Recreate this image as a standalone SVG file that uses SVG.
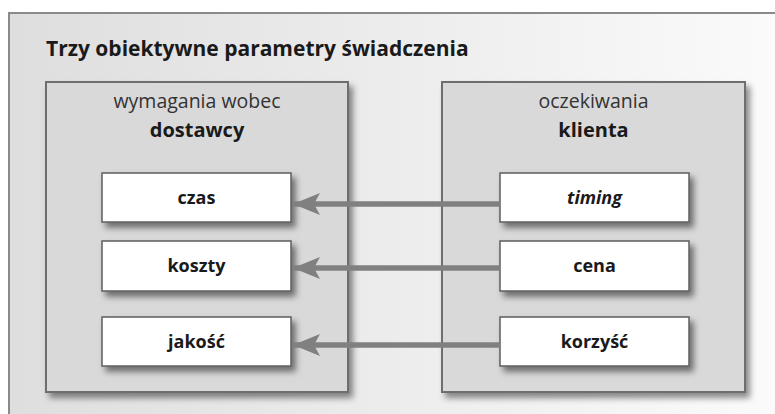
<svg xmlns="http://www.w3.org/2000/svg" width="775" height="414" viewBox="0 0 775 414">
<style>
  text { font-family: "Open Sans", "Noto Sans", "DejaVu Sans", sans-serif; fill: #1a1a1a; text-anchor: middle; }
  .title { font-size: 21px; font-weight: bold; text-anchor: start; }
  .sub { font-size: 19.5px; fill: #333; }
  .head { font-size: 20px; font-weight: bold; }
  .lbl { font-size: 18px; font-weight: bold; }
  .panel { fill: #d9d9d9; stroke: #6e6e6e; stroke-width: 2; filter: url(#sh); }
  .box { fill: #ffffff; stroke: #5e5e5e; stroke-width: 1.5; filter: url(#sh2); }
  .conn { stroke: #808080; stroke-width: 5.5; fill: none; marker-end: url(#ah); }
</style>
<defs>
  <linearGradient id="bg" x1="0" y1="0" x2="1" y2="0">
    <stop offset="0" stop-color="#dedede"/>
    <stop offset="1" stop-color="#fbfbfb"/>
  </linearGradient>
  <filter id="sh" x="-10%" y="-10%" width="130%" height="130%">
    <feDropShadow dx="4" dy="5" stdDeviation="3" flood-color="#000" flood-opacity="0.45"/>
  </filter>
  <filter id="sh2" x="-10%" y="-20%" width="130%" height="160%">
    <feDropShadow dx="4" dy="5" stdDeviation="3" flood-color="#000" flood-opacity="0.5"/>
  </filter>
  <marker id="ah" markerUnits="userSpaceOnUse" markerWidth="28" markerHeight="24" refX="27" refY="12" orient="auto">
    <path d="M0,1 L27,12 L0,23 L6,12 Z" fill="#808080"/>
  </marker>
</defs>
<rect width="775" height="414" fill="#ffffff"/>
<g id="outer">
  <rect x="9" y="13" width="780" height="420" fill="url(#bg)" stroke="#8a8a8a" stroke-width="2"/>
  <text class="title" x="46" y="56">Trzy obiektywne parametry świadczenia</text>
</g>
<g id="panel-dostawcy">
  <rect class="panel" x="46" y="82" width="302" height="310"/>
  <text class="sub" x="197" y="108">wymagania wobec</text>
  <text class="head" x="197" y="137">dostawcy</text>
</g>
<g id="panel-klienta">
  <rect class="panel" x="442" y="82" width="303" height="310"/>
  <text class="sub" x="593.5" y="108">oczekiwania</text>
  <text class="head" x="593.5" y="137">klienta</text>
</g>
<g id="czas">
  <rect class="box" x="102" y="173" width="189" height="49"/>
  <text class="lbl" x="196.5" y="204">czas</text>
</g>
<g id="koszty">
  <rect class="box" x="102" y="241" width="189" height="50"/>
  <text class="lbl" x="196.5" y="272">koszty</text>
</g>
<g id="jakosc">
  <rect class="box" x="102" y="317" width="189" height="49"/>
  <text class="lbl" x="196.5" y="348">jakość</text>
</g>
<g id="timing">
  <rect class="box" x="500" y="173" width="189" height="49"/>
  <text class="lbl" x="594.5" y="204" font-style="italic">timing</text>
</g>
<g id="cena">
  <rect class="box" x="500" y="241" width="189" height="50"/>
  <text class="lbl" x="594.5" y="272">cena</text>
</g>
<g id="korzysc">
  <rect class="box" x="500" y="317" width="189" height="49"/>
  <text class="lbl" x="594.5" y="348">korzyść</text>
</g>
<g id="connectors">
  <line class="conn" x1="500" y1="204" x2="293" y2="204"/>
  <line class="conn" x1="500" y1="268" x2="293" y2="268"/>
  <line class="conn" x1="500" y1="345" x2="293" y2="345"/>
</g>
</svg>
